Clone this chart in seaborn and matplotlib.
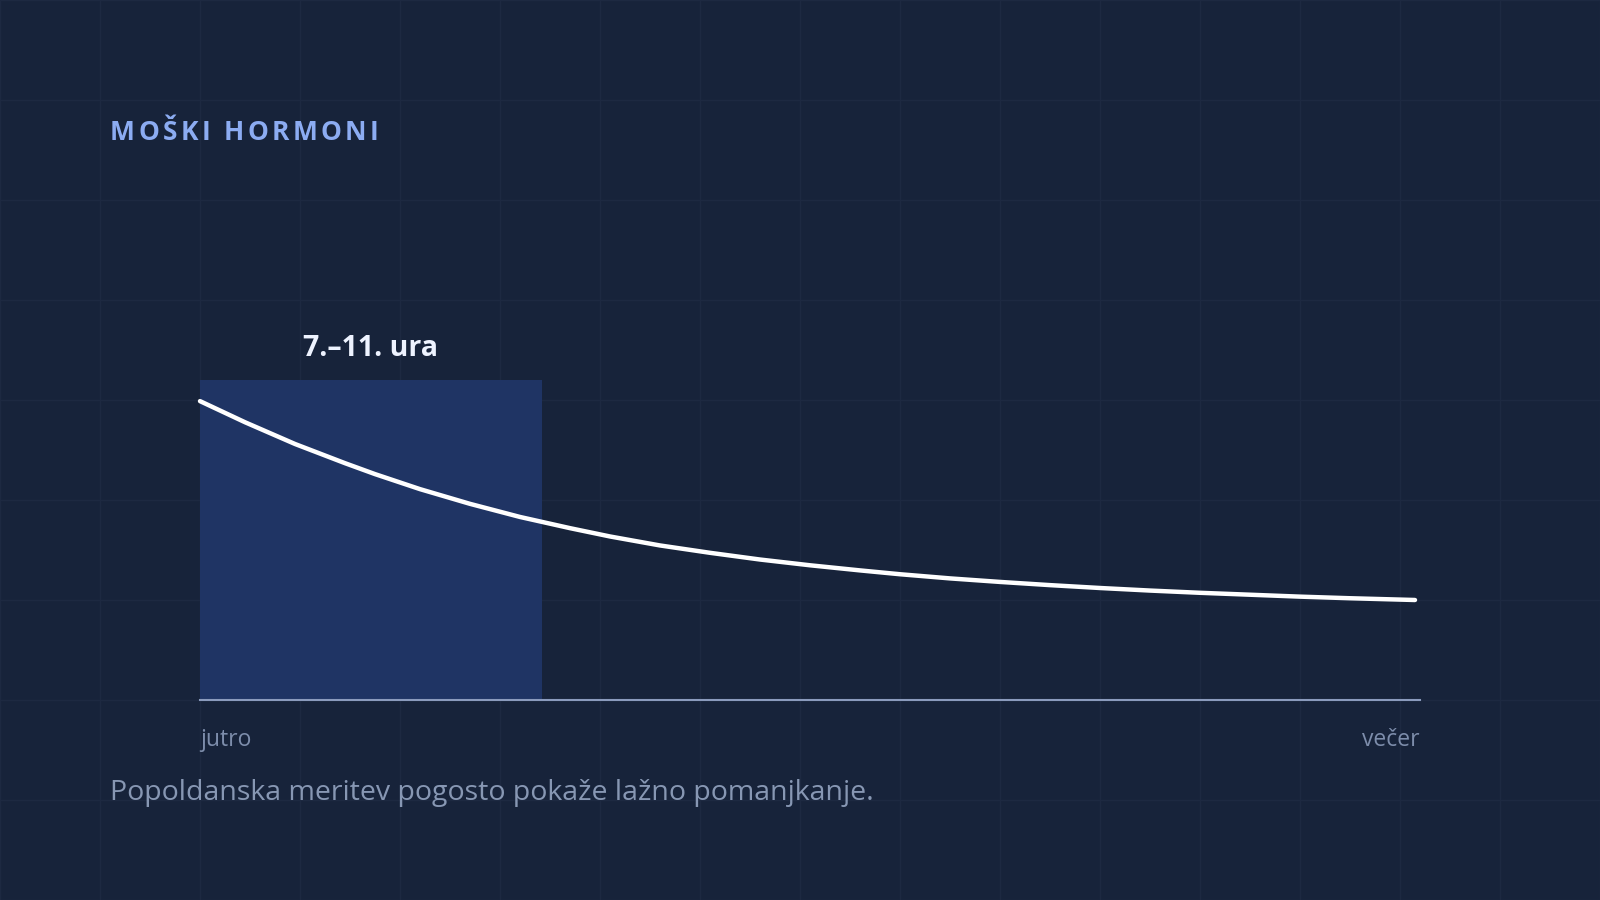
import numpy as np
import pandas as pd
import seaborn as sns
import matplotlib.pyplot as plt

# -----------------------------
# Data
# -----------------------------
# x: position across the day, 0 = jutro, 100 = večer
time_pos = [0, 3.69, 7.79, 11.89, 14.34, 18.03, 22.13, 26.23, 30.33, 33.61,
            37.70, 41.80, 45.90, 50.00, 54.10, 57.38, 61.48, 65.57, 69.67,
            73.77, 77.87, 81.97, 86.07, 90.16, 94.26, 99.59]
# y: relative hormone level (0 = axis, 100 = top of highlighted window)
level = [93.4, 86.8, 80.0, 74.0, 70.6, 65.9, 61.3, 57.2, 53.7, 51.1,
         48.3, 46.0, 43.9, 42.1, 40.5, 39.3, 38.0, 36.9, 35.9,
         35.0, 34.2, 33.5, 32.9, 32.3, 31.8, 31.25]

window_start, window_end = 0, 28
window_label = "7.–11. ura"
tick_pos = [0, 100]
tick_labels = ["jutro", "večer"]
title = "MOŠKI HORMONI"
caption = "Popoldanska meritev pogosto pokaže lažno pomanjkanje."

df = pd.DataFrame({"t": time_pos, "level": level})

# -----------------------------
# Styling
# -----------------------------
BG = "#17233a"
GRID = "#1d2941"
sns.set_style("white", {"axes.facecolor": BG, "figure.facecolor": BG})
plt.rcParams['font.family'] = ['Open Sans', 'DejaVu Sans']

W, H = 1600, 900
fig = plt.figure(figsize=(16, 9), dpi=100)

# background grid every 100 px
bg = fig.add_axes([0, 0, 1, 1], zorder=0)
bg.set_facecolor(BG)
bg.set_xlim(0, W)
bg.set_ylim(H, 0)
bg.set_xticks(np.arange(0, W + 1, 100))
bg.set_yticks(np.arange(0, H + 1, 100))
bg.grid(True, color=GRID, linewidth=1)
bg.tick_params(length=0, labelbottom=False, labelleft=False)
for s in bg.spines.values():
    s.set_visible(False)

# main chart
ax = fig.add_axes([200 / W, 200 / H, 1220 / W, 320 / H], zorder=1)
ax.patch.set_alpha(0)
ax.axvspan(window_start, window_end, ymin=0, ymax=1, color="#1f3464", lw=0, zorder=1)
sns.lineplot(data=df, x="t", y="level", ax=ax, color="white", linewidth=3.2,
             zorder=3, clip_on=False, solid_joinstyle="round")
ax.set_xlim(0, 100)
ax.set_ylim(0, 100)

ax.annotate(window_label, xy=((window_start + window_end) / 2, 100),
            xytext=(0, 17), textcoords="offset points", ha="center",
            va="baseline", fontsize=20.5, fontweight="bold", color="#eef3ff")

for name in ["top", "left", "right"]:
    ax.spines[name].set_visible(False)
ax.spines["bottom"].set_color("#8b9bbd")
ax.spines["bottom"].set_linewidth(1.5)
ax.set_yticks([])
ax.set_xticks(tick_pos, tick_labels)
ax.tick_params(axis="x", length=0, pad=20.5, labelsize=16.5, labelcolor="#7d8dab")
lbls = ax.get_xticklabels()
lbls[0].set_ha("left")
lbls[-1].set_ha("right")
ax.set_xlabel("")
ax.set_ylabel("")

# title with letter spacing (placed char by char)
renderer = fig.canvas.get_renderer()
x_px = 110
title_size = 19
spacing = 3.4
for ch in title:
    if ch == " ":
        x_px += 0.26 * title_size * 100 / 72 + spacing
        continue
    t = fig.text(x_px / W, 1 - 140 / H, ch, fontsize=title_size,
                 fontweight="bold", color="#8cacf2", va="baseline", ha="left")
    x_px += t.get_window_extent(renderer).width + spacing

fig.text(110 / W, 1 - 800 / H, caption, fontsize=20.5,
         color="#8797b3", va="baseline", ha="left")

plt.savefig("out.png", dpi=100, facecolor=BG)
plt.close()
